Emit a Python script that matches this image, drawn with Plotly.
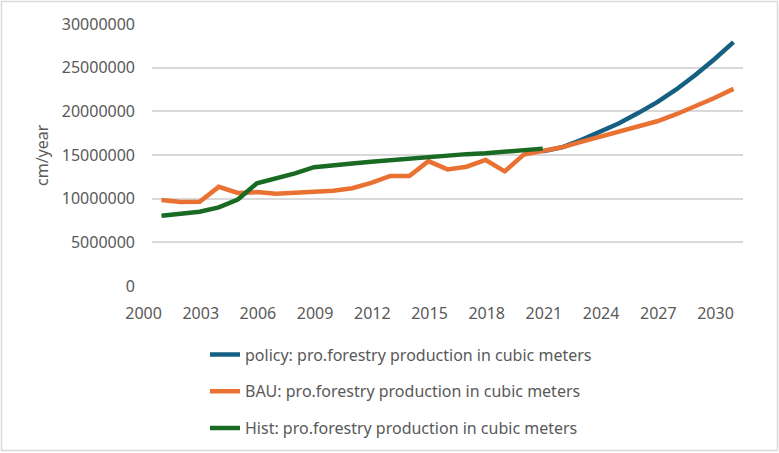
import plotly.graph_objects as go

years = list(range(2000, 2031))
hist_years = list(range(2000, 2021))
policy_years = list(range(2020, 2031))

hist = [8.05, 8.28, 8.5, 9.0, 9.9, 11.75, 12.3, 12.9, 13.6, 13.85, 14.03,
        14.22, 14.42, 14.57, 14.73, 14.92, 15.1, 15.2, 15.38, 15.57, 15.73]
bau = [9.85, 9.62, 9.65, 11.35, 10.65, 10.75, 10.55, 10.72, 10.8, 10.9, 11.2,
       11.8, 12.6, 12.6, 14.3, 13.35, 13.66, 14.43, 13.13, 15.04, 15.42,
       15.88, 16.5, 17.1, 17.6, 18.17, 18.86, 19.67, 20.56, 21.53, 22.57]
policy = [15.42, 15.88, 16.7, 17.66, 18.63, 19.8, 21.06, 22.5, 24.15, 25.97, 27.93]

names = ["policy: pro.forestry production in cubic meters",
         "BAU: pro.forestry production in cubic meters",
         "Hist: pro.forestry production in cubic meters"]
colors = ["#156082", "#E97132", "#196B24"]
tick_years = list(range(2000, 2031, 3))
y_ticks = list(range(0, 30000001, 5000000))
y_title = "cm/year"

W, H = 779, 453
L, R, T, B = 152, 743, 24, 286

def px(x):
    return (x - L) / (R - L)

def py(y):
    return (B - y) / (B - T)

fig = go.Figure()
series = [(policy_years, policy), (years, bau), (hist_years, hist)]
for i, ((xs, vals), name, col) in enumerate(zip(series, names, colors)):
    fig.add_trace(go.Scatter(
        x=xs, y=[v * 1e6 for v in vals], mode="lines", name=name,
        line=dict(color=col, width=4.5), legendgroup=f"g{i}"))

font_family = "Noto Sans, Liberation Sans, sans-serif"
fig.update_layout(
    width=W, height=H,
    margin=dict(l=L, r=W - R, t=T, b=H - B, autoexpand=False),
    paper_bgcolor="white", plot_bgcolor="white",
    font=dict(family=font_family, size=16, color="#595959"),
    showlegend=True,
    legend=dict(x=px(205), y=py(337.5), xanchor="left", yanchor="top",
                font=dict(size=16, color="#595959"), tracegroupgap=13,
                bgcolor="rgba(0,0,0,0)"),
    xaxis=dict(range=[1999.5, 2030.5], tickmode="array", tickvals=tick_years,
               ticktext=[str(t) for t in tick_years], showgrid=False,
               zeroline=False, showline=False, ticks="", automargin=False,
               ticklabelshift=-18, ticklabelstandoff=16,
               tickfont=dict(size=16, color="#595959")),
    yaxis=dict(range=[0, 30000000], tickmode="array", tickvals=y_ticks,
               ticktext=[str(t) for t in y_ticks], showgrid=True,
               gridcolor="#D9D9D9", gridwidth=1.5, zeroline=False,
               showline=False, ticks="", ticklabelstandoff=16, automargin=False,
               tickfont=dict(size=16, color="#595959")),
    annotations=[dict(text=y_title, xref="paper", yref="paper",
                      x=px(42), y=py(155), xanchor="center", yanchor="middle",
                      textangle=-90, showarrow=False,
                      font=dict(size=16, color="#595959"))],
    shapes=[dict(type="rect", xref="paper", yref="paper",
                 x0=px(1.5), x1=px(777.5), y0=py(450.5), y1=py(1.5),
                 line=dict(color="#D9D9D9", width=1.5), layer="below")],
)

fig.write_html("out.html", config={"displayModeBar": False},
               post_script="document.body.style.margin='0';document.body.style.overflow='hidden';")
